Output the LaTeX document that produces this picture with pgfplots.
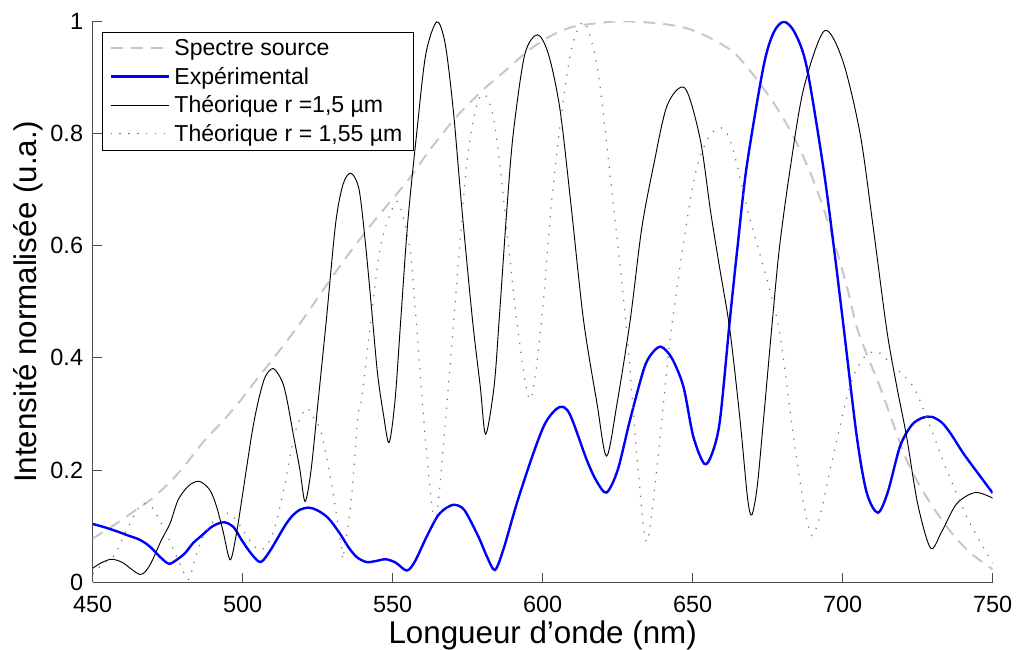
\documentclass[border=0pt]{standalone}
\usepackage{fontspec}
\setmainfont{Liberation Sans}
\usepackage{pgfplots}
\pgfplotsset{compat=1.18}
\begin{document}
\begin{tikzpicture}
\useasboundingbox (-69.5pt,-50.8pt) rectangle (694pt,436.7pt);
\begin{axis}[
  at={(0,0)}, anchor=south west,
  scale only axis, width=675pt, height=420.75pt,
  xmin=450, xmax=750, ymin=0, ymax=1,
  axis x line*=bottom, axis y line*=left,
  axis line style={black!70, line width=0.8pt},
  every tick/.style={black!70, line width=0.8pt},
  tick align=inside, major tick length=6.75pt,
  xtick={450,500,...,750}, ytick={0,0.2,...,1},
  /pgf/number format/assume math mode=true,
  tick label style={font=\fontsize{17.6}{20}\selectfont},
  xticklabel style={inner sep=0pt, yshift=-10.5pt},
  yticklabel style={inner sep=0pt, xshift=-7pt},
  every axis x label/.style={at={(axis description cs:0.5,0)}, anchor=center, yshift=-39.5pt},
  every axis y label/.style={at={(axis description cs:-0.0719,0.5)}, rotate=90, anchor=center},
  label style={font=\fontsize{23.5}{26}\selectfont},
  xlabel={Longueur d’onde (nm)},
  ylabel={Intensité normalisée (u.a.)},
  legend style={at={(0.0107,0.9815)}, anchor=north west, draw=black, line width=0.6pt,
    font=\fontsize{17.3}{21}\selectfont, legend cell align=left, row sep=3.2pt,
    inner xsep=5pt, inner ysep=3.5pt,
    nodes={inner xsep=3pt}},
  legend image code/.code={\draw[#1] (0pt,0pt) -- (44pt,0pt);},
]
\addplot[black!22, line width=1.5pt, dash pattern=on 9pt off 6pt, smooth] coordinates {
(450,0.078) (458,0.105) (465.2,0.132) (470,0.15) (476,0.18) (481,0.21) (487,0.251)
(493,0.285) (498.5,0.319) (503,0.35) (508,0.384) (514,0.425) (520,0.468) (528,0.53)
(536,0.59) (544,0.645) (552.4,0.699) (556,0.723) (563,0.775) (571.3,0.83) (580,0.877)
(589.1,0.919) (595,0.947) (602.4,0.973) (610,0.99) (619,0.997) (626,1.0) (635,0.998)
(643,0.993) (649,0.986) (657,0.967) (663.6,0.945) (668,0.919) (673,0.885) (679.2,0.836)
(685,0.78) (690.2,0.717) (694,0.66) (698,0.592) (701.5,0.525) (704.7,0.455) (708.5,0.40)
(712.4,0.349) (717,0.28) (721.3,0.218) (727,0.16) (734.7,0.099) (742,0.055) (750,0.023)
};
\addlegendentry{Spectre source}
\addplot[blue, line width=1.8pt, smooth] coordinates {
(450,0.104) (454,0.098) (458.5,0.09) (462,0.083) (465.2,0.077) (467.5,0.070) (469.6,0.061)
(472.5,0.045) (475.4,0.033) (478,0.040) (480.8,0.052) (483.5,0.07) (486.3,0.083) (490,0.100)
(493.8,0.107) (497,0.098) (499.7,0.075) (503,0.05) (506,0.036) (509,0.055) (511.9,0.081)
(514,0.100) (516.3,0.117) (519,0.129) (522.1,0.133) (525,0.128) (528.6,0.114) (532.4,0.087)
(535.2,0.063) (538,0.045) (541.3,0.036) (544.5,0.038) (547.7,0.041) (551,0.035) (554.7,0.021)
(557.4,0.037) (561.3,0.081) (565,0.118) (568,0.133) (570.8,0.138) (574,0.128) (578.6,0.081)
(581.5,0.045) (584.1,0.022) (587,0.06) (591.4,0.141) (596.9,0.23) (601,0.285) (605.5,0.312)
(609,0.3) (614.7,0.218) (618,0.18) (621.3,0.160) (625,0.2) (629.1,0.289) (633.6,0.378)
(636,0.405) (639.3,0.42) (643,0.40) (646.9,0.349) (650.2,0.26) (653.9,0.211) (656.5,0.23)
(659.1,0.289) (662.4,0.468) (665,0.6) (668,0.741) (673.6,0.919) (677,0.98) (680.4,0.999)
(684,0.98) (688,0.919) (693.5,0.741) (697,0.6) (700.2,0.46) (704.7,0.26) (708,0.16)
(711.7,0.124) (715,0.16) (719.1,0.242) (723,0.28) (726.5,0.293) (729.6,0.295) (733,0.285)
(736,0.265) (740.2,0.23) (745,0.195) (750,0.159)
};
\addlegendentry{Expérimental}
\addplot[black, line width=0.7pt, smooth] coordinates {
(450,0.025) (453,0.035) (456.3,0.041) (460,0.035) (465.8,0.014) (469,0.030) (472.9,0.075)
(475.8,0.105) (478.5,0.147) (482,0.172) (485.5,0.180) (489,0.165) (491.3,0.135) (493.5,0.09)
(495.8,0.040) (497.7,0.08) (499.7,0.147) (503.1,0.266) (505.3,0.325) (507.5,0.366)
(510.2,0.381) (513,0.360) (514.6,0.33) (517,0.26) (519.1,0.20) (520.8,0.144) (522.8,0.2)
(525.2,0.325) (527.9,0.468) (531,0.64) (533.5,0.71) (536.1,0.729) (538.8,0.70) (541,0.6)
(543.3,0.468) (545,0.37) (546.9,0.30) (548.8,0.249) (550.8,0.325) (552.7,0.468) (555,0.64)
(558,0.80) (561,0.94) (564.7,0.999) (567.5,0.96) (570.2,0.842) (573,0.67) (576.6,0.468)
(579.2,0.349) (581,0.264) (583.8,0.349) (585.5,0.468) (588,0.66) (590.2,0.80) (594,0.94)
(598.3,0.976) (602,0.94) (605.8,0.842) (609.5,0.67) (613.6,0.468) (618.1,0.319) (621.3,0.225)
(624.8,0.319) (629.2,0.468) (633,0.63) (636.9,0.741) (641.5,0.85) (647.4,0.881) (652.5,0.79)
(656,0.66) (659,0.56) (662.4,0.45) (665.8,0.289) (668.3,0.15) (669.7,0.12) (671.5,0.17)
(673.6,0.289) (676.6,0.468) (679,0.6) (682.6,0.741) (687,0.88) (693.9,0.983) (700,0.93)
(705.8,0.80) (710,0.64) (714.7,0.45) (718,0.35) (721.3,0.26) (725,0.14) (729.3,0.061)
(733,0.09) (738,0.14) (744.2,0.160) (750,0.150)
};
\addlegendentry{Théorique r =1,5 µm}
\addplot[black!55, line width=0.9pt, dash pattern=on 0.9pt off 5.8pt, smooth] coordinates {
(450,0.015) (454,0.035) (457.4,0.049) (461,0.09) (465.2,0.132) (467.5,0.14) (470,0.132)
(473.5,0.099) (476,0.07) (478.5,0.04) (481.9,0.005) (484,0.04) (486.3,0.075) (489,0.10)
(491.9,0.117) (495.2,0.123) (498,0.11) (500.8,0.087) (504.1,0.063) (506.3,0.058) (508.5,0.07)
(510.8,0.099) (514.1,0.176) (517.4,0.266) (521.2,0.31) (524,0.29) (526.2,0.266) (529.6,0.176)
(532.9,0.063) (533.5,0.046) (536.2,0.147) (538.4,0.295) (539.6,0.325) (542.4,0.45) (546,0.60)
(550.8,0.676) (553,0.66) (555.8,0.592) (558,0.456) (561,0.25) (564.1,0.108) (567,0.25)
(570.2,0.456) (574.6,0.741) (578,0.85) (580.8,0.869) (583.5,0.83) (585.8,0.741) (591.6,0.456)
(595.8,0.326) (599.5,0.46) (603,0.68) (606.9,0.86) (610,0.96) (613.6,0.999) (616.5,0.96)
(619,0.889) (623.4,0.681) (627.9,0.456) (631.5,0.22) (634.6,0.072) (638,0.2) (643,0.456)
(650.2,0.711) (655,0.79) (659.5,0.81) (663,0.78) (668.9,0.652) (675.7,0.521) (679.2,0.438)
(683.6,0.26) (687,0.14) (689.8,0.083) (693,0.13) (695.8,0.2) (702.4,0.349) (707,0.40)
(711.4,0.411) (716,0.39) (723.5,0.349) (729,0.28) (734.7,0.2) (742,0.11) (750,0.034)
};
\addlegendentry{Théorique r = 1,55 µm}
\end{axis}
\end{tikzpicture}
\end{document}
